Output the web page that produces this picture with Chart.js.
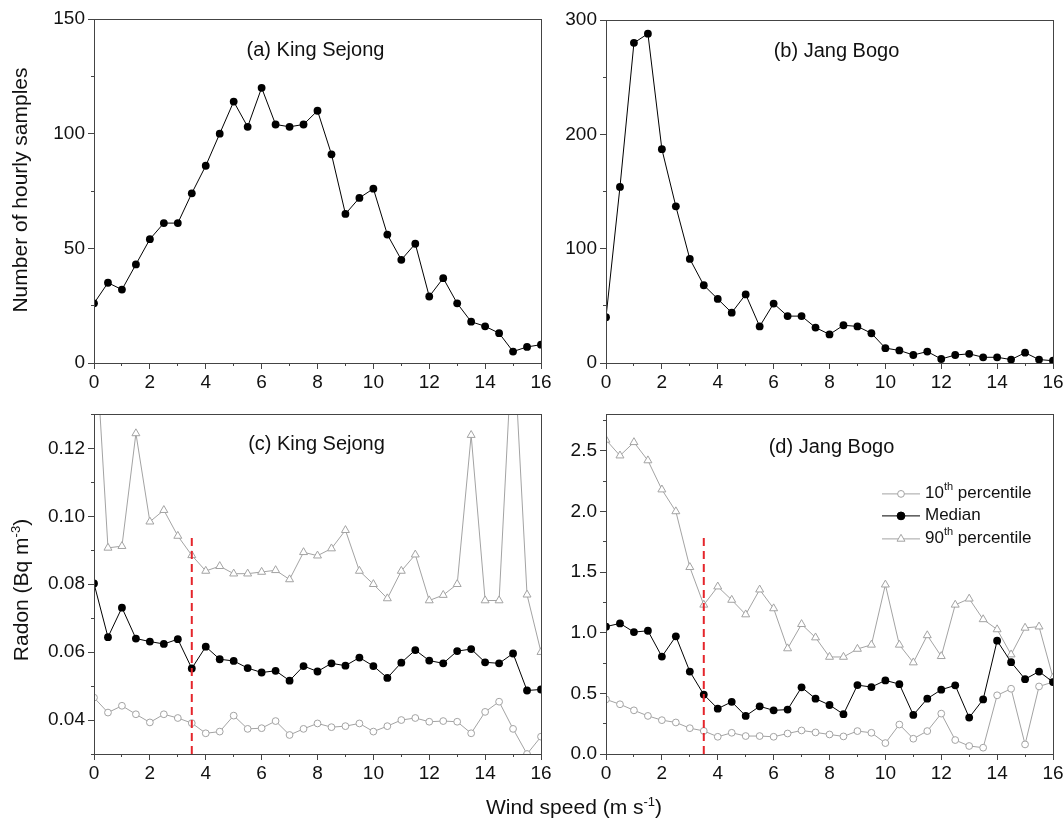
<!DOCTYPE html>
<html>
<head>
<meta charset="utf-8">
<script src="https://cdn.jsdelivr.net/npm/chart.js@4.4.1/dist/chart.umd.min.js"></script>
<style>
  body { margin: 0; background: #fff; overflow: hidden; width: 1063px; height: 824px; position: relative;
         font-family: "Liberation Sans", Arial, sans-serif; color: #111; }
  canvas { position: absolute; }
  .axis-title { position: absolute; white-space: nowrap; font-size: 21px; }
  .axis-title sup { font-size: 13px; }
</style>
</head>
<body>
<canvas id="chartA" width="560" height="400" style="left:0;top:0"></canvas>
<canvas id="chartB" width="520" height="400" style="left:560px;top:0"></canvas>
<canvas id="chartC" width="560" height="424" style="left:0;top:400px"></canvas>
<canvas id="chartD" width="520" height="424" style="left:560px;top:400px"></canvas>

<div class="axis-title" style="left:20px;top:190px;transform:translate(-50%,-50%) rotate(-90deg)">Number of hourly samples</div>
<div class="axis-title" style="left:20px;top:590px;transform:translate(-50%,-50%) rotate(-90deg)">Radon (Bq m<sup>-3</sup>)</div>
<div class="axis-title" style="left:574px;top:806px;transform:translate(-50%,-50%)">Wind speed (m s<sup>-1</sup>)</div>

<script>
// wind speed bins (m/s)
const windSpeed = [0, 0.5, 1, 1.5, 2, 2.5, 3, 3.5, 4, 4.5, 5, 5.5, 6, 6.5, 7, 7.5, 8,
                   8.5, 9, 9.5, 10, 10.5, 11, 11.5, 12, 12.5, 13, 13.5, 14, 14.5, 15, 15.5, 16];

// (a) / (b) number of hourly samples
const samplesKingSejong = [26, 35, 32, 43, 54, 61, 61, 74, 86, 100, 114, 103, 120, 104, 103, 104, 110,
                           91, 65, 72, 76, 56, 45, 52, 29, 37, 26, 18, 16, 13, 5, 7, 8];
const samplesJangBogo = [40, 154, 280, 288, 187, 137, 91, 68, 56, 44, 60, 32, 52, 41, 41, 31, 25,
                         33, 32, 26, 13, 11, 7, 10, 3.5, 7, 8, 5, 5, 3, 9, 3, 2];

// (c) King Sejong radon (Bq m-3)
const ksP10 = [0.0466, 0.0422, 0.0442, 0.0417, 0.0393, 0.0417, 0.0406, 0.0391, 0.0361, 0.0366, 0.0413,
               0.0374, 0.0376, 0.0397, 0.0356, 0.0374, 0.0390, 0.0379, 0.0382, 0.0390, 0.0366, 0.0382,
               0.0400, 0.0406, 0.0395, 0.0397, 0.0395, 0.0361, 0.0424, 0.0454, 0.0374, 0.0300, 0.0351];
const ksMedian = [0.0802, 0.0644, 0.0731, 0.0640, 0.0631, 0.0624, 0.0638, 0.0552, 0.0616, 0.0579, 0.0574,
                  0.0553, 0.0540, 0.0545, 0.0516, 0.0559, 0.0543, 0.0567, 0.0560, 0.0584, 0.0559, 0.0524,
                  0.0569, 0.0606, 0.0575, 0.0567, 0.0603, 0.0609, 0.0570, 0.0567, 0.0596, 0.0487, 0.0490];
const ksP90 = [0.160, 0.0907, 0.0912, 0.1244, 0.0984, 0.1018, 0.0942, 0.0885, 0.0839, 0.0853, 0.0831,
               0.0831, 0.0836, 0.0841, 0.0814, 0.0894, 0.0884, 0.0905, 0.0959, 0.0839, 0.0800, 0.0758,
               0.0839, 0.0887, 0.0752, 0.0768, 0.0800, 0.1239, 0.0752, 0.0752, 0.155, 0.0769, 0.0600];

// (d) Jang Bogo radon (Bq m-3)
const jbP10 = [0.45, 0.41, 0.36, 0.314, 0.279, 0.26, 0.213, 0.19, 0.142, 0.175, 0.148, 0.148, 0.142,
               0.169, 0.194, 0.178, 0.161, 0.145, 0.189, 0.175, 0.09, 0.243, 0.126, 0.189, 0.333, 0.115,
               0.066, 0.052, 0.484, 0.538, 0.079, 0.557, 0.593];
const jbMedian = [1.05, 1.077, 1.005, 1.016, 0.803, 0.97, 0.68, 0.49, 0.374, 0.43, 0.314, 0.393, 0.36,
                  0.366, 0.55, 0.456, 0.404, 0.328, 0.568, 0.552, 0.607, 0.576, 0.322, 0.456, 0.53, 0.566,
                  0.30, 0.45, 0.934, 0.757, 0.617, 0.68, 0.593];
const jbP90 = [2.59, 2.46, 2.57, 2.42, 2.18, 2.0, 1.54, 1.23, 1.38, 1.27, 1.15, 1.355, 1.2, 0.87, 1.07,
               0.96, 0.80, 0.80, 0.866, 0.9, 1.396, 0.9, 0.754, 0.978, 0.806, 1.23, 1.28, 1.11, 1.027,
               0.82, 1.04, 1.05, 0.63];

// red dashed threshold line
const thresholdSpeed = 3.5;
const thresholdTopKS = 0.095;
const thresholdTopJB = 1.82;

const GRAY = '#a3a3a3';
const AXIS = '#444';
const FONT = '"Liberation Sans", Arial, sans-serif';

Chart.defaults.font.family = FONT;
Chart.defaults.color = '#111';

const toPoints = vals => vals.map((v, i) => ({ x: windSpeed[i], y: v }));

function medianSet(vals) {
  return {
    label: 'Median', data: toPoints(vals),
    borderColor: '#000', borderWidth: 1,
    pointRadius: 3.9, pointBackgroundColor: '#000', pointBorderColor: '#000', pointBorderWidth: 0
  };
}
function p10Set(vals) {
  return {
    label: '10th percentile', data: toPoints(vals),
    borderColor: GRAY, borderWidth: 1,
    pointRadius: 3.4, pointBackgroundColor: '#fff', pointBorderColor: GRAY, pointBorderWidth: 1
  };
}
function p90Set(vals) {
  return {
    label: '90th percentile', data: toPoints(vals),
    borderColor: GRAY, borderWidth: 1, pointStyle: 'triangle',
    pointRadius: 4.6, pointBackgroundColor: '#fff', pointBorderColor: GRAY, pointBorderWidth: 1
  };
}
function thresholdSet(yMin, yTop) {
  return {
    label: 'threshold', data: [{ x: thresholdSpeed, y: yMin }, { x: thresholdSpeed, y: yTop }],
    borderColor: '#e5252b', borderWidth: 2, borderDash: [8, 5], pointRadius: 0
  };
}

// frame around the plot area + panel label + optional legend
const panelPlugin = {
  id: 'panel',
  afterDraw(chart, args, opts) {
    const { ctx, chartArea: a } = chart;
    ctx.save();
    ctx.strokeStyle = AXIS;
    ctx.lineWidth = 1;
    ctx.strokeRect(Math.round(a.left) + 0.5, Math.round(a.top) + 0.5,
                   Math.round(a.right - a.left), Math.round(a.bottom - a.top));
    ctx.fillStyle = '#111';
    ctx.font = '20px ' + FONT;
    ctx.textAlign = 'center';
    ctx.textBaseline = 'alphabetic';
    ctx.fillText(opts.text, (a.left + a.right) / 2 + opts.dx, a.top + opts.dy);

    if (opts.legend) {
      const rows = [
        { pre: '10', sup: 'th', post: ' percentile', color: GRAY, style: 'circle', r: 3.4, fill: '#fff', dy: 79 },
        { pre: 'Median', sup: '', post: '', color: '#000', style: 'circle', r: 3.9, fill: '#000', dy: 101 },
        { pre: '90', sup: 'th', post: ' percentile', color: GRAY, style: 'triangle', r: 4.6, fill: '#fff', dy: 124 }
      ];
      rows.forEach(row => {
        const y = a.top + row.dy;
        const x0 = a.left + 276, x1 = a.left + 314;
        ctx.strokeStyle = row.color;
        ctx.lineWidth = 1;
        ctx.beginPath();
        ctx.moveTo(x0, y + 0.5);
        ctx.lineTo(x1, y + 0.5);
        ctx.stroke();
        ctx.fillStyle = row.fill;
        Chart.helpers.drawPoint(ctx, { pointStyle: row.style, radius: row.r, rotation: 0, borderWidth: 1 },
                                (x0 + x1) / 2, y + 0.5);
        ctx.fillStyle = '#111';
        ctx.textAlign = 'left';
        ctx.textBaseline = 'middle';
        let tx = a.left + 319;
        ctx.font = '17px ' + FONT;
        ctx.fillText(row.pre, tx, y);
        tx += ctx.measureText(row.pre).width;
        if (row.sup) {
          ctx.font = '11px ' + FONT;
          ctx.fillText(row.sup, tx, y - 6);
          tx += ctx.measureText(row.sup).width;
          ctx.font = '17px ' + FONT;
          ctx.fillText(row.post, tx, y);
        }
      });
    }
    ctx.restore();
  }
};

function makeChart(id, datasets, y, panel, box) {
  const ctx = document.getElementById(id).getContext('2d');
  const tickGrid = len => ({ drawOnChartArea: false, drawTicks: true, tickLength: len, color: AXIS });
  return new Chart(ctx, {
    type: 'line',
    data: { datasets },
    options: {
      responsive: false,
      animation: false,
      devicePixelRatio: 1,
      layout: { padding: { left: 0, top: box.top, right: box.right, bottom: 0 } },
      scales: {
        // minor tick marks sit right on the frame (zero-size boxes)
        xm: {
          type: 'linear', position: 'bottom', min: 0, max: 16, weight: 0,
          afterFit: s => { s.height = 0; },
          grid: tickGrid(3), border: { display: false },
          ticks: { stepSize: 1, display: false }
        },
        ym: {
          type: 'linear', position: 'left', min: y.min, max: y.max, weight: 0,
          afterFit: s => { s.width = 0; },
          grid: tickGrid(3), border: { display: false },
          ticks: { stepSize: y.minor, includeBounds: false, display: false }
        },
        x: {
          type: 'linear', position: 'bottom', min: 0, max: 16, weight: 1,
          afterFit: s => { s.height = box.xh; },
          grid: tickGrid(6), border: { display: false },
          ticks: {
            stepSize: 2, autoSkip: false, maxRotation: 0, padding: 2,
            font: { size: 19 }, color: '#111'
          }
        },
        y: {
          type: 'linear', position: 'left', min: y.min, max: y.max, weight: 1,
          afterFit: s => { s.width = box.yw; },
          afterBuildTicks: s => { s.ticks = s.ticks.filter(t => y.keep(t.value)); },
          grid: tickGrid(6), border: { display: false },
          ticks: {
            stepSize: y.minor, includeBounds: false, autoSkip: false, padding: 3,
            font: { size: 19 }, color: '#111',
            callback: y.label
          }
        }
      },
      plugins: {
        legend: { display: false },
        tooltip: { enabled: false },
        panel
      }
    },
    plugins: [panelPlugin]
  });
}

makeChart('chartA', [medianSet(samplesKingSejong)],
  { min: 0, max: 150, minor: 25, keep: v => v % 50 === 0, label: v => v },
  { text: '(a) King Sejong', dx: -2, dy: 37 },
  { top: 19, right: 19, yw: 94, xh: 37 });

makeChart('chartB', [medianSet(samplesJangBogo)],
  { min: 0, max: 300, minor: 50, keep: v => v % 100 === 0, label: v => v },
  { text: '(b) Jang Bogo', dx: 7, dy: 37 },
  { top: 20, right: 27, yw: 46, xh: 37 });

makeChart('chartC', [thresholdSet(0.03, thresholdTopKS), medianSet(ksMedian), p10Set(ksP10), p90Set(ksP90)],
  { min: 0.03, max: 0.13, minor: 0.01, keep: v => Math.round(v * 100) % 2 === 0, label: v => v.toFixed(2) },
  { text: '(c) King Sejong', dx: -1, dy: 36 },
  { top: 13, right: 19, yw: 94, xh: 70 });

makeChart('chartD', [thresholdSet(0, thresholdTopJB), medianSet(jbMedian), p10Set(jbP10), p90Set(jbP90)],
  { min: 0, max: 2.8, minor: 0.25, keep: v => Math.round(v * 100) % 50 === 0, label: v => v.toFixed(1) },
  { text: '(d) Jang Bogo', dx: 2, dy: 39, legend: true },
  { top: 13, right: 27, yw: 46, xh: 70 });
</script>
</body>
</html>
